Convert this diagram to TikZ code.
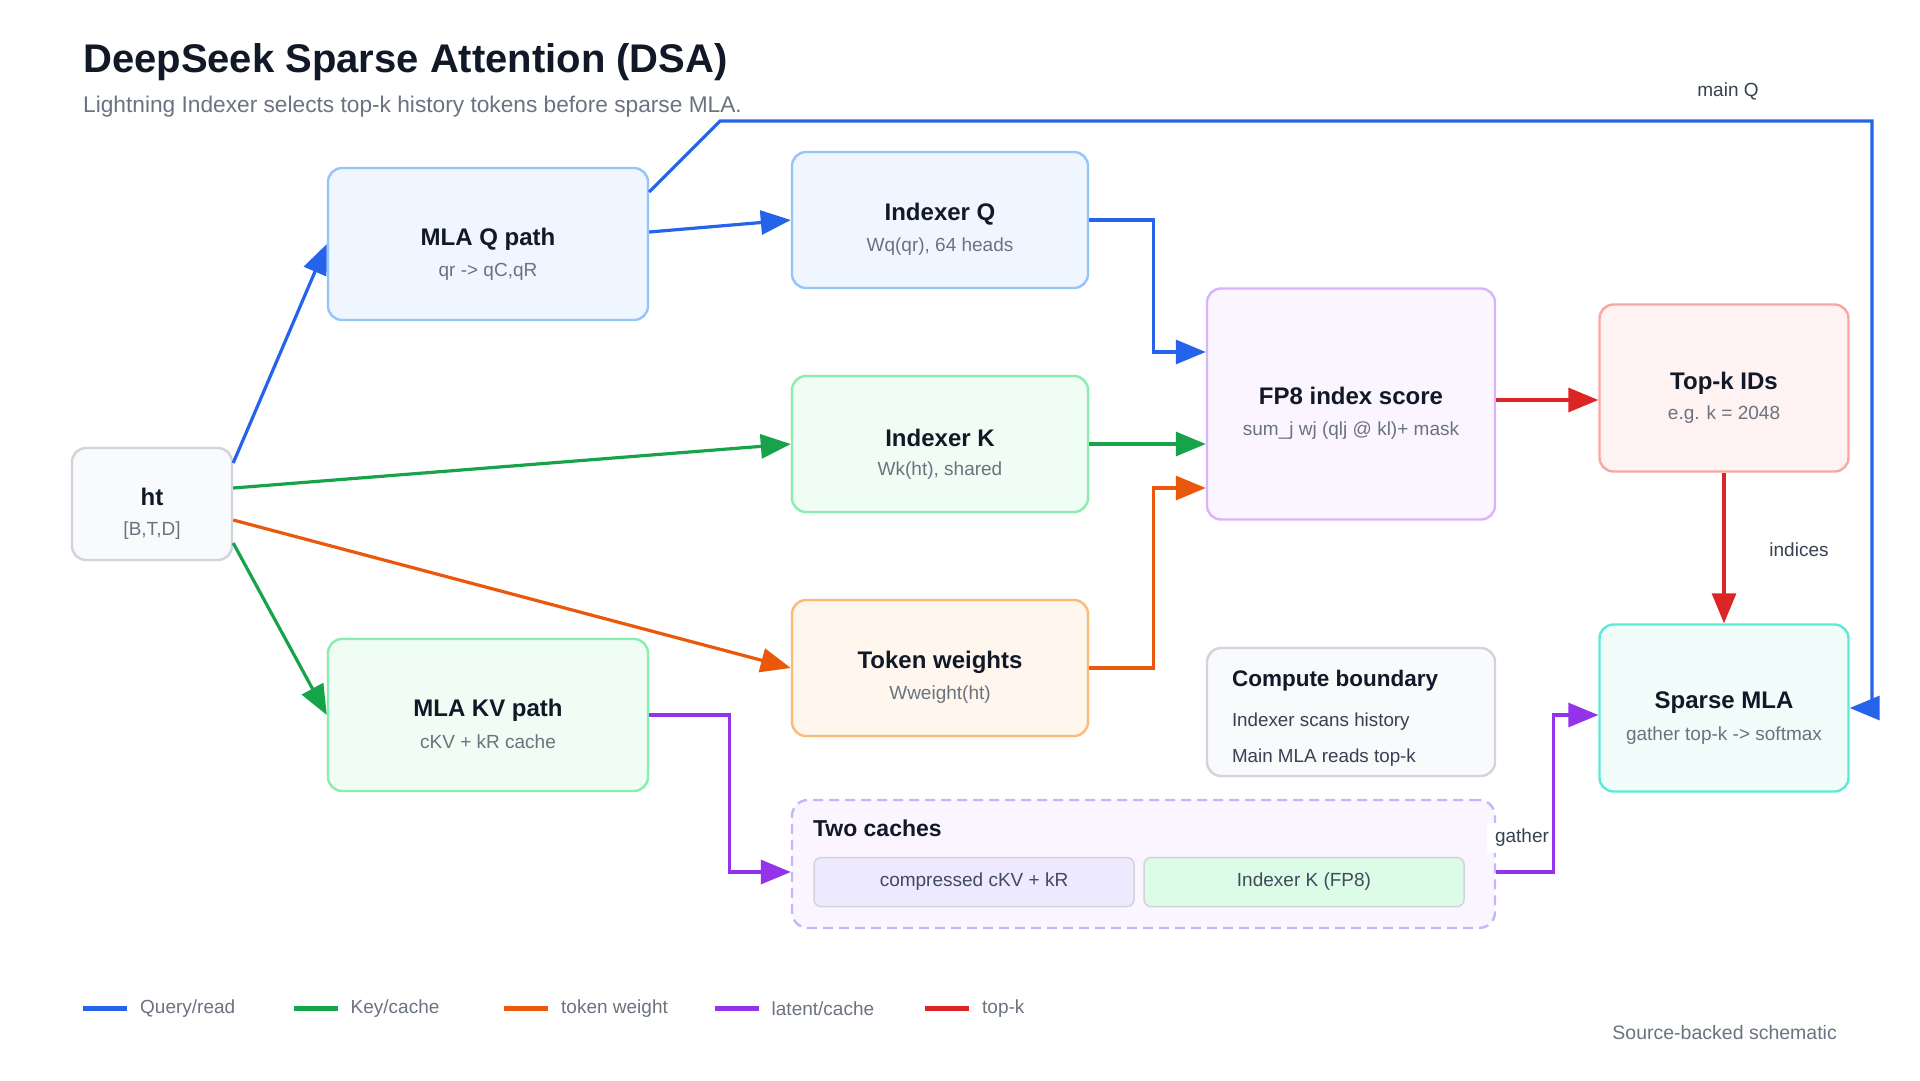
\documentclass[tikz,border=0pt]{standalone}
\usepackage{fontspec}
\setmainfont{Liberation Sans}
\usepackage{xcolor}
\usetikzlibrary{arrows.meta,calc,positioning}

\definecolor{ink}{HTML}{111827}
\definecolor{muted}{HTML}{6B7280}
\definecolor{edgetxt}{HTML}{374151}
\definecolor{qblue}{HTML}{2563EB}
\definecolor{kgreen}{HTML}{16A34A}
\definecolor{worange}{HTML}{EA580C}
\definecolor{lpurple}{HTML}{9333EA}
\definecolor{tred}{HTML}{DC2626}
\definecolor{graybd}{HTML}{D1D5DB}
\definecolor{grayfl}{HTML}{F8FAFC}
\definecolor{bluebd}{HTML}{93C5FD}
\definecolor{bluefl}{HTML}{EFF6FF}
\definecolor{greenbd}{HTML}{86EFAC}
\definecolor{greenfl}{HTML}{F0FDF4}
\definecolor{orangebd}{HTML}{FDBA74}
\definecolor{orangefl}{HTML}{FFF7ED}
\definecolor{purplebd}{HTML}{D8B4FE}
\definecolor{purplefl}{HTML}{FAF5FF}
\definecolor{redbd}{HTML}{FCA5A5}
\definecolor{redfl}{HTML}{FEF2F2}
\definecolor{tealbd}{HTML}{5EEAD4}
\definecolor{tealfl}{HTML}{F0FDFA}
\definecolor{cachebd}{HTML}{C4B5FD}
\definecolor{cmpfl}{HTML}{EDE9FE}
\definecolor{fp8fl}{HTML}{DCFCE7}

\begin{document}
\begin{tikzpicture}[x=1pt,y=-1pt,
  box/.style={rounded corners=14pt,line width=2.4pt,inner sep=0pt},
  ttl/.style={font=\fontsize{24}{29}\selectfont\bfseries,text=ink},
  sub/.style={font=\fontsize{19}{23}\selectfont,text=muted},
  edgelbl/.style={font=\fontsize{19}{23}\selectfont,text=edgetxt},
  arr/.style={line width=3.2pt,-{Triangle[length=30pt,width=24pt]}}]
  \fill[white] (0,0) rectangle (1920,1080);
  \useasboundingbox (0,0) rectangle (1920,1080);

  % title
  \node[anchor=base west,inner sep=0pt,font=\fontsize{40}{48}\selectfont\bfseries,text=ink] (title) at (83,72) {DeepSeek Sparse Attention (DSA)};
  \node[anchor=base west,inner sep=0pt,font=\fontsize{22.7}{27}\selectfont,text=muted] (subtitle) at (83,112) {Lightning Indexer selects top-k history tokens before sparse MLA.};

  % boxes
  \node[box,draw=graybd,fill=grayfl,minimum width=160pt,minimum height=112pt] (ht) at (152,504) {};
  \node[ttl] (htT) at ([yshift=7]ht.center) {ht};
  \node[sub] (htS) at ([yshift=-27]ht.center) {[B,T,D]};

  \node[box,draw=bluebd,fill=bluefl,minimum width=320pt,minimum height=152pt] (mlaq) at (488,244) {};
  \node[ttl] (mlaqT) at ([yshift=5]mlaq.center) {MLA Q path};
  \node[sub] (mlaqS) at ([yshift=-28]mlaq.center) {qr -> qC,qR};

  \node[box,draw=greenbd,fill=greenfl,minimum width=320pt,minimum height=152pt] (mlakv) at (488,715) {};
  \node[ttl] (mlakvT) at ([yshift=5]mlakv.center) {MLA KV path};
  \node[sub] (mlakvS) at ([yshift=-27]mlakv.center) {cKV + kR cache};

  \node[box,draw=bluebd,fill=bluefl,minimum width=296pt,minimum height=136pt] (idxq) at (940,220) {};
  \node[ttl] (idxqT) at ([yshift=6]idxq.center) {Indexer Q};
  \node[sub] (idxqS) at ([yshift=-27]idxq.center) {Wq(qr), 64 heads};

  \node[box,draw=greenbd,fill=greenfl,minimum width=296pt,minimum height=136pt] (idxk) at (940,444) {};
  \node[ttl] (idxkT) at ([yshift=6]idxk.center) {Indexer K};
  \node[sub] (idxkS) at ([yshift=-27]idxk.center) {Wk(ht), shared};

  \node[box,draw=orangebd,fill=orangefl,minimum width=296pt,minimum height=136pt] (tokw) at (940,668) {};
  \node[ttl] (tokwT) at ([yshift=6]tokw.center) {Token weights};
  \node[sub] (tokwS) at ([yshift=-27]tokw.center) {Wweight(ht)};

  \node[box,draw=purplebd,fill=purplefl,minimum width=288pt,minimum height=231pt] (fp8) at (1351,404) {};
  \node[ttl] (fp8T) at ([yshift=8]fp8.center) {FP8 index score};
  \node[sub] (fp8S) at ([yshift=-27]fp8.center) {sum\_j wj (qlj @ kl)+ mask};

  \node[box,draw=redbd,fill=redfl,minimum width=249pt,minimum height=167pt] (topk) at (1724,388) {};
  \node[ttl] (topkT) at ([yshift=5]topk.center) {Top-k IDs};
  \node[sub] (topkS) at ([yshift=-27]topk.center) {e.g. k = 2048};

  \node[box,draw=tealbd,fill=tealfl,minimum width=249pt,minimum height=167pt] (sparse) at (1724,708) {};
  \node[ttl] (sparseT) at ([yshift=5]sparse.center) {Sparse MLA};
  \node[sub] (sparseS) at ([yshift=-28]sparse.center) {gather top-k -> softmax};

  % compute boundary note
  \node[box,draw=graybd,fill=grayfl,minimum width=288pt,minimum height=128pt] (compute) at (1351,712) {};
  \node[anchor=west,inner sep=0pt,font=\fontsize{22.5}{27}\selectfont\bfseries,text=ink] (computeT) at ([xshift=26,yshift=31.5]compute.west) {Compute boundary};
  \node[anchor=west,inner sep=0pt,font=\fontsize{18.8}{23}\selectfont,text=edgetxt] (computeA) at ([xshift=26,yshift=-10]compute.west) {Indexer scans history};
  \node[anchor=west,inner sep=0pt,font=\fontsize{18.8}{23}\selectfont,text=edgetxt] (computeB) at ([xshift=26,yshift=-46]compute.west) {Main MLA reads top-k};

  % two caches
  \node[draw=cachebd,fill=purplefl,dash pattern=on 10pt off 6pt,rounded corners=16pt,line width=2.4pt,minimum width=703pt,minimum height=128pt] (caches) at (1143.5,864) {};
  \node[anchor=west,inner sep=0pt,font=\fontsize{23}{27}\selectfont\bfseries,text=ink] (cachesT) at ([xshift=22,yshift=36]caches.west) {Two caches};
  \node[draw=graybd,fill=cmpfl,rounded corners=7pt,line width=1.5pt,minimum width=320pt,minimum height=49pt,font=\fontsize{19}{23}\selectfont,text=edgetxt!80!muted] (cmp) at (974,882) {compressed cKV + kR};
  \node[draw=graybd,fill=fp8fl,rounded corners=7pt,line width=1.5pt,minimum width=320pt,minimum height=49pt,font=\fontsize{19}{23}\selectfont,text=edgetxt!80!muted] (kfp8) at (1304,882) {Indexer K (FP8)};

  % edge labels
  \node[edgelbl] (mainqlbl) at (1728,91) {main Q};
  \node[edgelbl] (idxlbl) at (1799,550) {indices};
  \node[edgelbl,fill=white,inner xsep=8pt,inner ysep=6pt] (gatherlbl) at (1522,838) {gather};

  % connectors
  \draw[arr,qblue] ([yshift=41]ht.east) -- (mlaq.west);
  \draw[arr,kgreen] ([yshift=16]ht.east) -- (idxk.west);
  \draw[arr,worange] ([yshift=-16]ht.east) -- (tokw.west);
  \draw[arr,kgreen] ([yshift=-39]ht.east) -- (mlakv.west);
  \draw[arr,qblue] ([yshift=12]mlaq.east) -- (idxq.west);
  \coordinate (qbend) at (720,121);
  \coordinate (qtop) at (1872,121);
  \draw[arr,qblue] ([yshift=52]mlaq.east) -- (qbend) -- (qtop) |- (sparse.east);
  \draw[arr,qblue] (idxq.east) -- ++(64,0) |- ([yshift=52]fp8.west);
  \draw[arr,kgreen] (idxk.east) -- (idxk.east -| fp8.west);
  \draw[arr,worange] (tokw.east) -- ++(64,0) |- ([yshift=-84]fp8.west);
  \draw[arr,tred] ([yshift=4]fp8.east) -- ([yshift=-12]topk.west);
  \draw[arr,tred] (topk.south) -- (sparse.north);
  \draw[arr,lpurple] (mlakv.east) -- ++(80,0) |- ([yshift=-8]caches.west);
  \draw[arr,lpurple] ([yshift=-8]caches.east) -- ++(57,0) |- ([yshift=-7]sparse.west);

  % legend
  \foreach \i/\c/\t in {0/qblue/{Query/read},1/kgreen/{Key/cache},2/worange/{token weight},3/lpurple/{latent/cache},4/tred/{top-k}}{
    \draw[line width=5pt,\c] (83+210.5*\i,1008) -- ++(44,0);
    \node[anchor=west,inner sep=0pt,font=\fontsize{19}{23}\selectfont,text=muted] (leg\i) at (140+210.5*\i,1009) {\t};
  }
  \node[anchor=east,inner sep=0pt,font=\fontsize{19.5}{23}\selectfont,text=muted] (srcnote) at (1837,1033) {Source-backed schematic};
\end{tikzpicture}
\end{document}
